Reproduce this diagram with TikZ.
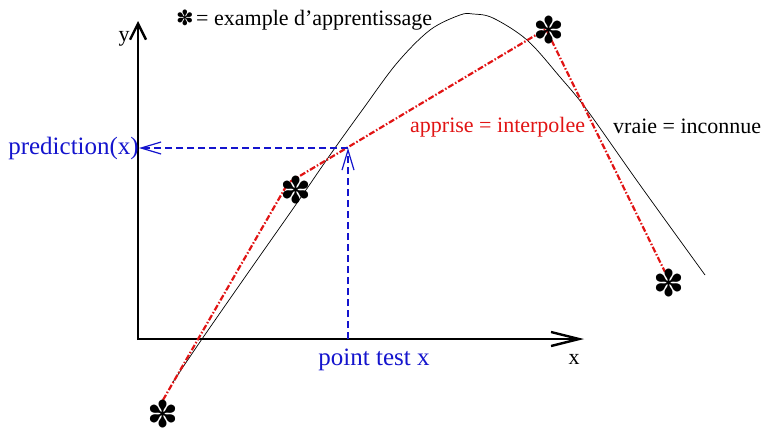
\documentclass[tikz,border=0pt]{standalone}
\usepackage{fontspec}
\setmainfont{Liberation Serif}
\newfontfamily\dingfont{DejaVu Sans}
\usetikzlibrary{arrows.meta}
\definecolor{myblue}{RGB}{20,20,205}
\definecolor{myred}{RGB}{225,20,20}
\tikzset{
  axis/.style={line width=2.4pt},
  starnode/.style={inner sep=0pt,font=\dingfont\fontsize{37}{37}\selectfont},
  bluearrow/.style={myblue,line width=1.2pt,dash pattern=on 7pt off 4pt,
     -{Straight Barb[length=20pt,width=12pt,line width=1.2pt]}},
  redline/.style={myred,line width=2.2pt,dash pattern=on 6pt off 2pt on 1.5pt off 2pt},
  lbl/.style={inner sep=0pt,font=\fontsize{22}{26}\selectfont},
}
\begin{document}
\begin{tikzpicture}[x=1pt,y=-1pt]
\useasboundingbox (0,0) rectangle (765,431);
% axes
\coordinate (O) at (138,339);
\coordinate (xe) at (584,339);
\coordinate (ye) at (138,21);
\draw[axis,-{Straight Barb[length=28pt,width=14pt,line width=2.4pt]}] (O) -- (xe);
\draw[axis,-{Straight Barb[length=16pt,width=16pt,line width=2.4pt]}] (138,340) -- (ye);
\node[lbl,anchor=base] (ylab) at (124,41) {y};
\node[lbl,anchor=base] (xlab) at (574,364) {x};
% true curve
\draw[line width=0.7pt] plot[smooth,tension=0.55] coordinates {
 (173,382) (202,339) (250,270) (297,203) (330,155) (363,109) (397,63)
 (430,30) (460,15) (473,14) (493,18) (527,40) (560,77) (587,110) (640,185) (705,275)};
% interpolated polyline
\coordinate (p1) at (163,400);
\coordinate (p2) at (288,183);
\coordinate (p3) at (546,29);
\coordinate (p4) at (665,272);
\draw[redline] (p1) -- (p2) -- (p3) -- (p4);
% stars
\node[starnode] (s1) at (163,414) {✽};
\node[starnode] (s2) at (296,190) {✽};
\node[starnode] (s3) at (549,30) {✽};
\node[starnode] (s4) at (669,283) {✽};
% test point
\coordinate (tx) at (348,339);
\coordinate (ty) at (348,148);
\node[lbl,myblue,anchor=east,font=\fontsize{25}{28}\selectfont] (pred) at (139,148) {prediction(x)};
\draw[bluearrow] (tx) -- (ty);
\draw[bluearrow] (ty) -- (pred.east);
\node[lbl,myblue,anchor=base,font=\fontsize{25}{28}\selectfont] (pt) at (374,365) {point test x};
% labels
\node[starnode,font=\dingfont\fontsize{21}{21}\selectfont] (ls) at (185,18) {✽};
\node[lbl,anchor=base west] (legend) at (196,25) {= example d’apprentissage};
\node[lbl,myred,anchor=base west] (appr) at (410,132) {apprise = interpolee};
\node[lbl,anchor=base west] (vraie) at (613,133) {vraie = inconnue};
\end{tikzpicture}
\end{document}
